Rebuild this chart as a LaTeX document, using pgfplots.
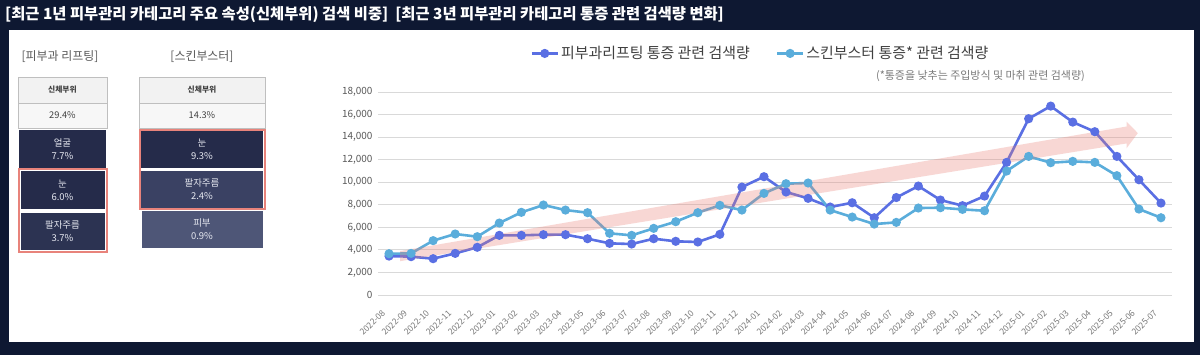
\documentclass[border=0pt]{standalone}
\usepackage{fontspec}
\setmainfont{Noto Sans CJK KR}
\usepackage{pgfplots}
\pgfplotsset{compat=1.18}
\definecolor{bgnavy}{HTML}{0E1832}
\definecolor{darkline}{HTML}{5A6FE3}
\definecolor{lightline}{HTML}{5AADDB}
\definecolor{gridgray}{HTML}{D9D9D9}
\definecolor{tickgray}{HTML}{595959}
\definecolor{xtickgray}{HTML}{7A7A7A}
\definecolor{legendgray}{HTML}{404040}
\definecolor{cellhead}{HTML}{F2F2F2}
\definecolor{cellborder}{HTML}{BFBFBF}
\definecolor{navyA}{HTML}{252B4A}
\definecolor{navyB}{HTML}{2C3352}
\definecolor{navyC}{HTML}{3A4163}
\definecolor{navyD}{HTML}{4E5677}
\definecolor{redframe}{HTML}{E8837B}
\definecolor{arrowpink}{HTML}{E87D73}
\definecolor{celltext}{HTML}{E6E8F0}

\pgfplotstableread{
idx dark light
0 3450 3660
1 3400 3690
2 3220 4820
3 3690 5410
4 4230 5170
5 5290 6380
6 5290 7330
7 5350 7980
8 5350 7530
9 4990 7300
10 4580 5470
11 4520 5290
12 4990 5910
13 4760 6500
14 4700 7300
15 5380 7950
16 9570 7530
17 10490 9010
18 9130 9870
19 8570 9930
20 7800 7530
21 8180 6910
22 6850 6290
23 8640 6440
24 9660 7710
25 8420 7740
26 7920 7590
27 8770 7470
28 11760 10990
29 15630 12290
30 16750 11730
31 15330 11850
32 14480 11760
33 12290 10580
34 10220 7620
35 8150 6850
}\datatable

\begin{document}
\begin{tikzpicture}
\useasboundingbox (0,0) rectangle (1200bp,355bp);
\begin{scope}[x=1bp,y=-1bp,yshift=355bp]
  \fill[bgnavy] (0,0) rectangle (1200,355);
  \fill[white] (9,30) rectangle (1194,342);
  \node[anchor=west,text=white,font=\bfseries\fontsize{15.4}{17}\selectfont,inner sep=0pt] at (5,15)
    {[최근 1년 피부관리 카테고리 주요 속성(신체부위) 검색 비중]\ \ [최근 3년 피부관리 카테고리 통증 관련 검색량 변화]};
  % left tables
  \node[text=tickgray,font=\fontsize{12}{14}\selectfont] at (60,57) {[피부과 리프팅]};
  \node[text=tickgray,font=\fontsize{12}{14}\selectfont] at (202,57) {[스킨부스터]};
  % table 1
  \filldraw[fill=cellhead,draw=cellborder,line width=0.8bp] (18,77) rectangle (107,103);
  \filldraw[fill=cellhead!60!white,draw=cellborder,line width=0.8bp] (18,103) rectangle (107,128);
  \node[font=\bfseries\fontsize{7.8}{9}\selectfont,text=legendgray] at (62.5,90) {신체부위};
  \node[font=\fontsize{9.3}{11}\selectfont,text=legendgray] at (62.5,115.5) {29.4\%};
  \fill[navyA] (19,130) rectangle (106,168);
  \fill[navyA] (21,171) rectangle (105,209);
  \fill[navyB] (21,213) rectangle (105,250);
  \draw[redframe,line width=1.6bp] (19,169) rectangle (107,252);
  \node[align=center,text=celltext,font=\fontsize{9.5}{13}\selectfont] at (62.5,149.5) {얼굴\\7.7\%};
  \node[align=center,text=celltext,font=\fontsize{9.5}{13}\selectfont] at (62.5,190.5) {눈\\6.0\%};
  \node[align=center,text=celltext,font=\fontsize{9.5}{13}\selectfont] at (62.5,231.5) {팔자주름\\3.7\%};
  % table 2
  \filldraw[fill=cellhead,draw=cellborder,line width=0.8bp] (139,77) rectangle (265,103);
  \filldraw[fill=cellhead!60!white,draw=cellborder,line width=0.8bp] (139,103) rectangle (265,128);
  \node[font=\bfseries\fontsize{7.8}{9}\selectfont,text=legendgray] at (202,90) {신체부위};
  \node[font=\fontsize{9.3}{11}\selectfont,text=legendgray] at (202,115.5) {14.3\%};
  \fill[navyA] (141,131) rectangle (263,168);
  \fill[navyC] (141,171) rectangle (263,208);
  \fill[navyD] (142,211) rectangle (263,248);
  \draw[redframe,line width=1.6bp] (140,130) rectangle (265,209);
  \node[align=center,text=celltext,font=\fontsize{9.5}{13}\selectfont] at (202,149.5) {눈\\9.3\%};
  \node[align=center,text=celltext,font=\fontsize{9.5}{13}\selectfont] at (202,189.5) {팔자주름\\2.4\%};
  \node[align=center,text=celltext,font=\fontsize{9.5}{13}\selectfont] at (202,229.5) {피부\\0.9\%};
  % subtitle
  \node[anchor=east,text=xtickgray,font=\fontsize{11}{13}\selectfont,inner sep=0pt] at (1085,76)
    {(*통증을 낮추는 주입방식 및 마취 관련 검색량)};
\end{scope}

\begin{axis}[
  at={(378bp,60bp)}, anchor=south west,
  scale only axis, width=794bp, height=203bp,
  xmin=-0.5, xmax=35.5, ymin=0, ymax=18000,
  xtick={0,...,35},
  xticklabels={2022-08,2022-09,2022-10,2022-11,2022-12,2023-01,2023-02,2023-03,2023-04,2023-05,2023-06,2023-07,2023-08,2023-09,2023-10,2023-11,2023-12,2024-01,2024-02,2024-03,2024-04,2024-05,2024-06,2024-07,2024-08,2024-09,2024-10,2024-11,2024-12,2025-01,2025-02,2025-03,2025-04,2025-05,2025-06,2025-07},
  ytick={0,2000,...,18000},
  ymajorgrids, grid style={draw=gridgray,line width=0.8bp},
  axis line style={draw=none}, major tick length=0pt,
  scaled y ticks=false,
  /pgf/number format/assume math mode=true,
  yticklabel style={font=\fontsize{10}{11}\selectfont,text=tickgray,/pgf/number format/1000 sep={,},/pgf/number format/fixed,xshift=-2bp},
  xticklabel style={font=\fontsize{8.6}{9}\selectfont,text=xtickgray,xshift=-3bp,yshift=-14bp,rotate=45,anchor=east},
  legend columns=2,
  legend style={at={(axis description cs:0.188,1.19)},anchor=west,draw=none,fill=none,
    font=\fontsize{15}{16}\selectfont,text=legendgray,
    /tikz/every even column/.append style={column sep=24bp}},
  legend image code/.code={\draw[mark repeat=2,mark phase=2,#1] plot coordinates {(0bp,0bp) (13bp,0bp) (26bp,0bp)};},
  clip=false,
]
\addplot[darkline,line width=2.6bp,mark=*,mark size=3.2bp,mark options={fill=darkline,draw=darkline}] table[x=idx,y=dark] {\datatable};
\addlegendentry{피부과리프팅 통증 관련 검색량}
\addplot[lightline,line width=2.6bp,mark=*,mark size=3.2bp,mark options={fill=lightline,draw=lightline}] table[x=idx,y=light] {\datatable};
\addlegendentry{스킨부스터 통증* 관련 검색량}
\fill[arrowpink,fill opacity=0.3]
  (axis cs:0.5,3900) -- (axis cs:33.44,14940) -- (axis cs:33.44,15370) -- (axis cs:33.95,14355)
  -- (axis cs:33.44,13010) -- (axis cs:33.44,13440) -- (axis cs:0.5,3000) -- cycle;
\end{axis}
\end{tikzpicture}
\end{document}
